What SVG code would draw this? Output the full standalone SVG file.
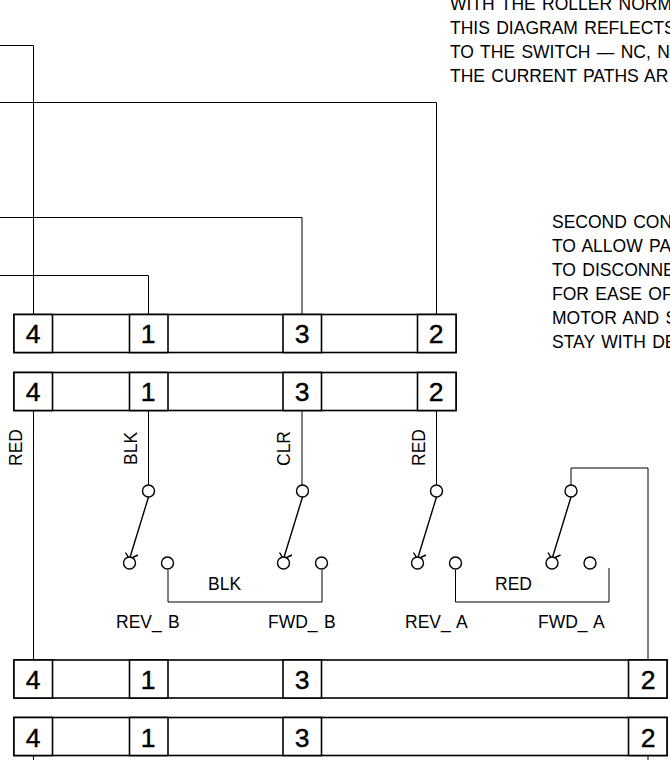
<svg xmlns="http://www.w3.org/2000/svg" width="670" height="760" viewBox="0 0 670 760">
<style>
text{font-family:"Liberation Sans",Arial,sans-serif;fill:#000}
.t{font-size:17.5px;word-spacing:1.5px}
.n{font-size:26.5px;text-anchor:middle;stroke:#000;stroke-width:.4}
.w{fill:none;stroke:#000;stroke-width:1}
.b{fill:#fff;stroke:#000;stroke-width:1.6}
.c{fill:#fff;stroke:#000;stroke-width:1.4}
.a{fill:none;stroke:#000;stroke-width:1.4}
</style>
<defs>
<g id="cell4"><rect class="b" x="14" y="0" width="38.500" height="38"/><rect class="b" x="129.500" y="0" width="38.500" height="38"/><rect class="b" x="283" y="0" width="38.500" height="38"/></g>
<g id="sw"><path class="a" d="M0 6L-19 68M-23 61.500L-19 68L-10.500 64"/><circle class="c" cx="0" cy="0" r="6"/><circle class="c" cx="-19" cy="72" r="6"/><circle class="c" cx="19" cy="72" r="6"/></g>
</defs>
<g id="connectors">
<path class="w" d="M0 45.500H33.500V315M33.500 410V660M33.500 756V760"/>
<path class="w" d="M0 102.500H436.500V315"/>
<path class="w" d="M0 217.500H302V315"/>
<path class="w" d="M0 275.500H148.500V315"/>
<path class="w" d="M148.500 410V485M302 410V485M436.500 410V485"/>
<path class="w" d="M168 570V602H322V570"/>
<path class="w" d="M455.500 570V602H609V568"/>
<path class="w" d="M571 485V468H648V660M648 756V760"/>
</g>
<g id="text-notes">
<text x="450" y="10" class="t">WITH THE ROLLER NORM</text>
<text x="450" y="34" class="t">THIS DIAGRAM REFLECTS</text>
<text x="450" y="58" class="t">TO THE SWITCH — NC, N</text>
<text x="450" y="82" class="t">THE CURRENT PATHS AR</text>
<text x="552" y="228" class="t">SECOND CON</text>
<text x="552" y="252" class="t">TO ALLOW PA</text>
<text x="552" y="276" class="t">TO DISCONNE</text>
<text x="552" y="300" class="t">FOR EASE OF</text>
<text x="552" y="324" class="t">MOTOR AND S</text>
<text x="552" y="348" class="t">STAY WITH DE</text>
</g>
<g id="row1"><rect class="b" x="14" y="314.500" width="442" height="38"/><use href="#cell4" y="314.500"/><rect class="b" x="417.500" y="314.500" width="38.500" height="38"/>
<text class="n" x="33" y="343">4</text><text class="n" x="148" y="343">1</text><text class="n" x="302" y="343">3</text><text class="n" x="436" y="343">2</text></g>
<g id="row2"><rect class="b" x="14" y="372.500" width="442" height="38"/><use href="#cell4" y="372.500"/><rect class="b" x="417.500" y="372.500" width="38.500" height="38"/>
<text class="n" x="33" y="401">4</text><text class="n" x="148" y="401">1</text><text class="n" x="302" y="401">3</text><text class="n" x="436" y="401">2</text></g>
<g id="row3"><rect class="b" x="14" y="660" width="653" height="38"/><use href="#cell4" y="660"/><rect class="b" x="628.500" y="660" width="38.500" height="38"/>
<text class="n" x="33" y="689">4</text><text class="n" x="148" y="689">1</text><text class="n" x="302" y="689">3</text><text class="n" x="648" y="689">2</text></g>
<g id="row4"><rect class="b" x="14" y="717.500" width="653" height="38"/><use href="#cell4" y="717.500"/><rect class="b" x="628.500" y="717.500" width="38.500" height="38"/>
<text class="n" x="33" y="747">4</text><text class="n" x="148" y="747">1</text><text class="n" x="302" y="747">3</text><text class="n" x="648" y="747">2</text></g>
<g id="switch-rev-b"><use href="#sw" x="148.500" y="491"/></g>
<g id="switch-fwd-b"><use href="#sw" x="302.500" y="491"/></g>
<g id="switch-rev-a"><use href="#sw" x="436.500" y="491"/></g>
<g id="switch-fwd-a"><use href="#sw" x="571" y="491"/></g>
<g id="labels">
<text class="t" transform="translate(22,466) rotate(-90)">RED</text>
<text class="t" transform="translate(137,465) rotate(-90)">BLK</text>
<text class="t" transform="translate(290,466) rotate(-90)">CLR</text>
<text class="t" transform="translate(425,466) rotate(-90)">RED</text>
<text class="t" x="208" y="590">BLK</text>
<text class="t" x="495" y="590">RED</text>
<text class="t" x="116" y="628">REV_ B</text>
<text class="t" x="268" y="628">FWD_ B</text>
<text class="t" x="405" y="628">REV_ A</text>
<text class="t" x="538" y="628">FWD_ A</text>
</g>
</svg>
